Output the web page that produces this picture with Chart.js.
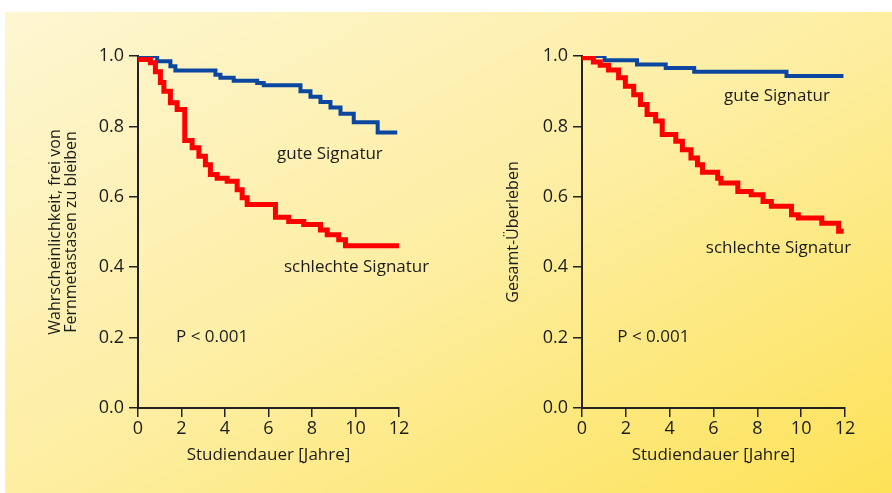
<!DOCTYPE html>
<html>
<head>
<meta charset="utf-8">
<script src="https://cdn.jsdelivr.net/npm/chart.js@4.4.1/dist/chart.umd.min.js"></script>
<style>
  html, body { margin: 0; padding: 0; background: #fff; }
  #page { position: relative; width: 892px; height: 493px; overflow: hidden; }
  #panel {
    position: absolute; left: 5px; top: 12px; width: 887px; height: 481px;
    background: linear-gradient(to bottom right, #fdf6d2 0%, #fdeea2 50%, #fde257 100%);
  }
  canvas { position: absolute; top: 0; }
</style>
</head>
<body>
<div id="page">
  <div id="panel"></div>
  <canvas id="leftChart" width="446" height="493" style="left:0"></canvas>
  <canvas id="rightChart" width="446" height="493" style="left:446px"></canvas>
</div>
<script>
// axis ticks (years / probability)
const xTicks = [0, 2, 4, 6, 8, 10, 12];
const yTicks = [0, 0.2, 0.4, 0.6, 0.8, 1.0];

// left panel: metastasis-free probability
const leftGoodTimes  = [0, 0.88, 1.49, 1.72, 3.56, 3.79, 4.40, 5.48, 5.78, 7.47, 7.93, 8.39, 8.85, 9.31, 9.92, 11.02, 11.92];
const leftGoodValues = [1.0, 0.985, 0.971, 0.959, 0.947, 0.938, 0.930, 0.923, 0.917, 0.900, 0.884, 0.869, 0.854, 0.836, 0.812, 0.783, 0.783];
const leftBadTimes   = [0, 0.57, 0.80, 1.03, 1.19, 1.49, 1.80, 2.15, 2.49, 2.80, 3.10, 3.33, 3.64, 4.10, 4.56, 4.79, 5.02, 6.32, 6.93, 7.62, 8.39, 8.70, 9.23, 9.54, 12.0];
const leftBadValues  = [0.99, 0.981, 0.955, 0.925, 0.900, 0.867, 0.848, 0.760, 0.739, 0.715, 0.691, 0.663, 0.653, 0.644, 0.620, 0.597, 0.578, 0.542, 0.530, 0.521, 0.506, 0.492, 0.478, 0.461, 0.461];

// right panel: overall survival
const rightGoodTimes  = [0, 1.03, 2.51, 3.82, 5.12, 9.33, 11.93];
const rightGoodValues = [1.0, 0.988, 0.976, 0.966, 0.955, 0.943, 0.943];
const rightBadTimes   = [0, 0.52, 0.83, 1.21, 1.67, 1.98, 2.36, 2.67, 2.97, 3.36, 3.66, 4.28, 4.58, 4.97, 5.27, 5.50, 6.19, 6.34, 7.11, 7.72, 8.26, 8.64, 9.56, 9.87, 10.94, 11.71, 11.94];
const rightBadValues  = [0.995, 0.983, 0.974, 0.960, 0.938, 0.914, 0.890, 0.862, 0.834, 0.815, 0.777, 0.758, 0.734, 0.710, 0.691, 0.670, 0.653, 0.639, 0.615, 0.606, 0.587, 0.573, 0.549, 0.540, 0.525, 0.502, 0.502];

// in-plot labels: [text, x (years), y (probability)]
const leftNotes  = [['gute Signatur', 6.39, 0.72], ['schlechte Signatur', 6.71, 0.40], ['P < 0.001', 1.75, 0.20]];
const rightNotes = [['gute Signatur', 6.48, 0.885], ['schlechte Signatur', 5.65, 0.455], ['P < 0.001', 1.61, 0.20]];

const FONT = '"Open Sans", "Noto Sans", sans-serif';
const INK = '#1c1c1c';
const BLUE = '#0b47a0';
const RED = '#ff0000';

const toPoints = (xs, ys) => xs.map((x, i) => ({ x: x, y: ys[i] }));

// writes the labels inside the plot, placed through the chart scales
const notesPlugin = {
    id: 'notes',
    afterDatasetsDraw(chart, args, opts) {
        const ctx = chart.ctx;
        const xs = chart.scales.x, ys = chart.scales.y;
        ctx.save();
        ctx.font = '17px ' + FONT;
        ctx.fillStyle = INK;
        ctx.textAlign = 'left';
        ctx.textBaseline = 'middle';
        opts.items.forEach(n => ctx.fillText(n[0], xs.getPixelForValue(n[1]), ys.getPixelForValue(n[2])));
        ctx.restore();
    }
};

function makeChart(id, goodT, goodV, badT, badV, notes, yTitle, yWidth, yTitlePad) {
    return new Chart(document.getElementById(id), {
        type: 'line',
        data: {
            datasets: [{
                label: 'schlechte Signatur',
                data: toPoints(badT, badV),
                borderColor: RED,
                borderWidth: 5,
                stepped: true,
                pointRadius: 0,
                borderJoinStyle: 'miter',
                borderCapStyle: 'butt',
                fill: false
            }, {
                label: 'gute Signatur',
                data: toPoints(goodT, goodV),
                borderColor: BLUE,
                borderWidth: 4,
                stepped: true,
                pointRadius: 0,
                borderJoinStyle: 'miter',
                borderCapStyle: 'butt',
                fill: false
            }]
        },
        options: {
            responsive: false,
            animation: false,
            layout: { padding: { top: 56, right: 47, bottom: 0, left: 0 } },
            plugins: {
                legend: { display: false },
                tooltip: { enabled: false },
                notes: { items: notes }
            },
            scales: {
                x: {
                    type: 'linear',
                    min: 0, max: 12,
                    afterBuildTicks: s => { s.ticks = xTicks.map(v => ({ value: v })); },
                    afterFit: s => { s.height = 85; },
                    grid: { drawOnChartArea: false, drawTicks: true, tickLength: 9, color: '#222', lineWidth: 1.5 },
                    border: { display: true, color: '#222', width: 2 },
                    ticks: { color: INK, font: { family: FONT, size: 18 }, padding: 1, maxRotation: 0 },
                    title: { display: true, text: 'Studiendauer [Jahre]', color: INK,
                             font: { family: FONT, size: 17 }, padding: { top: 0, bottom: 28 } }
                },
                y: {
                    type: 'linear',
                    min: 0, max: 1,
                    afterBuildTicks: s => { s.ticks = yTicks.map(v => ({ value: v })); },
                    afterFit: s => { s.width = yWidth; },
                    grid: { drawOnChartArea: false, drawTicks: true, tickLength: 9, color: '#222', lineWidth: 1.5 },
                    border: { display: true, color: '#222', width: 2 },
                    ticks: { color: INK, font: { family: FONT, size: 18 }, padding: 5,
                             callback: v => v.toFixed(1) },
                    title: { display: true, text: yTitle, color: INK,
                             font: { family: FONT, size: 16, lineHeight: 1.0 }, padding: { top: yTitlePad, bottom: 0 } }
                }
            }
        },
        plugins: [notesPlugin]
    });
}

makeChart('leftChart', leftGoodTimes, leftGoodValues, leftBadTimes, leftBadValues, leftNotes,
          ['Wahrscheinlichkeit, frei von', 'Fernmetastasen zu bleiben'], 138, 47);
makeChart('rightChart', rightGoodTimes, rightGoodValues, rightBadTimes, rightBadValues, rightNotes,
          'Gesamt-Überleben', 136, 59);
</script>
</body>
</html>
